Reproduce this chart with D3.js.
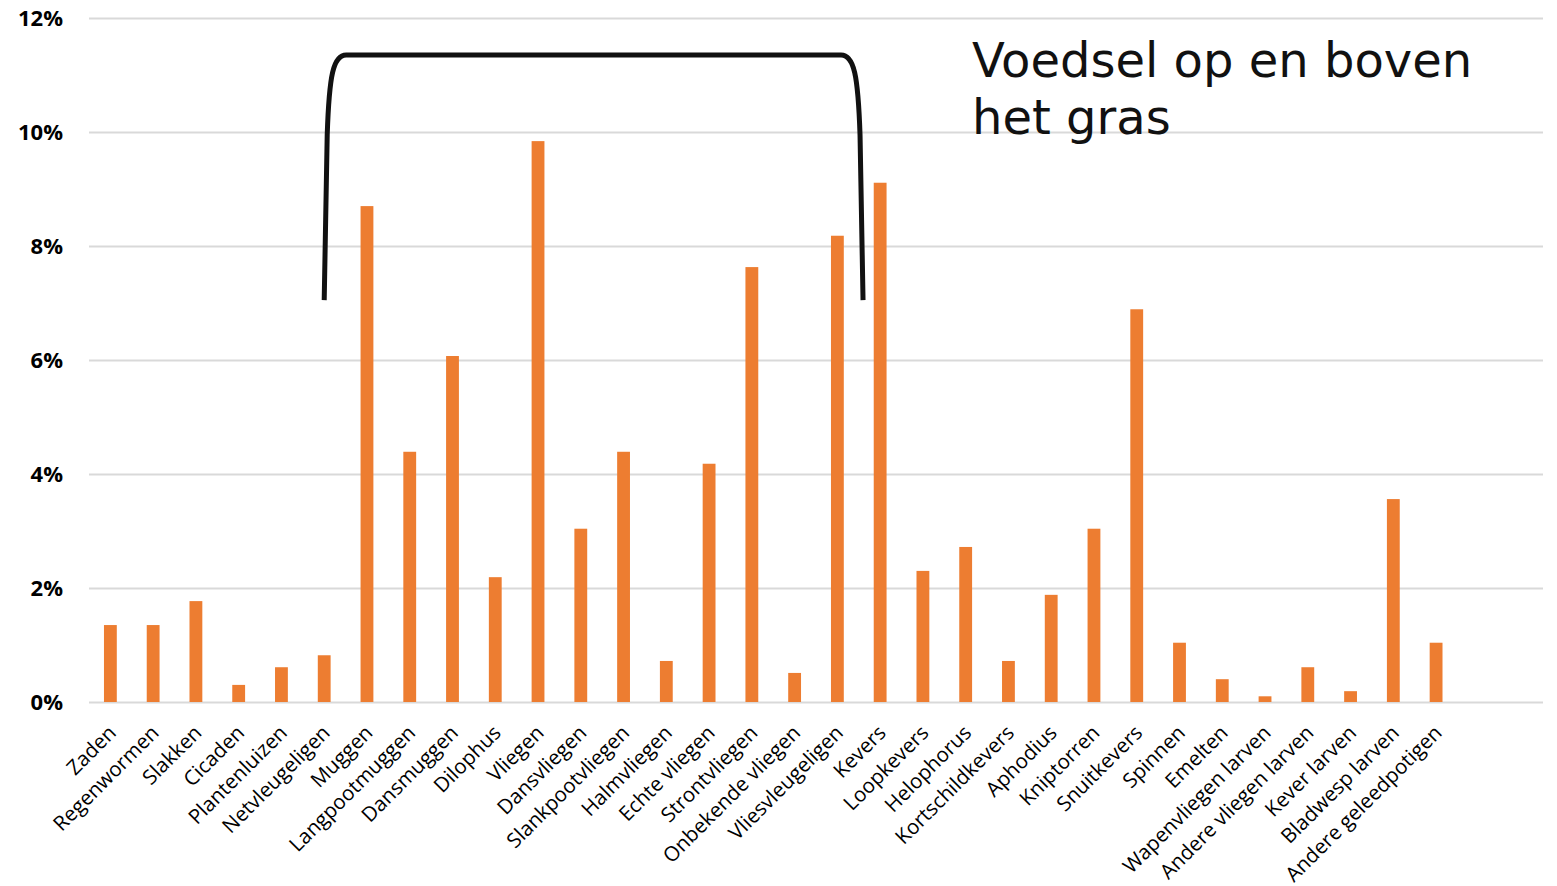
<!DOCTYPE html>
<html>
<head>
<meta charset="utf-8">
<script src="https://cdn.jsdelivr.net/npm/d3@7"></script>
<style>
  body { margin: 0; background: #fff; }
  .yAxis text { font-family: 'Open Sans', sans-serif; font-weight: bold; font-size: 22px; fill: #000; }
  .xAxis text { font-family: 'Open Sans', sans-serif; font-size: 20.5px; fill: #000; }
  .note { font-family: 'DejaVu Sans', sans-serif; font-weight: normal; fill: #111; }
</style>
</head>
<body>
<svg width="1557" height="886"></svg>
<script>
//## DATA ##
const categories = ['Zaden', 'Regenwormen', 'Slakken', 'Cicaden', 'Plantenluizen', 'Netvleugeligen',
  'Muggen', 'Langpootmuggen', 'Dansmuggen', 'Dilophus', 'Vliegen', 'Dansvliegen', 'Slankpootvliegen',
  'Halmvliegen', 'Echte vliegen', 'Strontvliegen', 'Onbekende vliegen', 'Vliesvleugeligen', 'Kevers',
  'Loopkevers', 'Helophorus', 'Kortschildkevers', 'Aphodius', 'Kniptorren', 'Snuitkevers', 'Spinnen',
  'Emelten', 'Wapenvliegen larven', 'Andere vliegen larven', 'Kever larven', 'Bladwesp larven',
  'Andere geleedpotigen']
const percentages = [1.35, 1.35, 1.77, 0.30, 0.61, 0.82,
  8.70, 4.39, 6.07, 2.19, 9.84, 3.04, 4.39,
  0.72, 4.18, 7.63, 0.51, 8.18, 9.11,
  2.30, 2.72, 0.72, 1.88, 3.04, 6.89, 1.04,
  0.40, 0.10, 0.61, 0.19, 3.56,
  1.04]
const yTicks = [0, 2, 4, 6, 8, 10, 12]
const noteLines = ['Voedsel op en boven', 'het gras']
// bracket spans from Netvleugeligen to just before Kevers, value range 7%..11.35%
const bracketFrom = 'Netvleugeligen'
const bracketTo = 'Kevers'
const bracketLow = 7.05
const bracketHigh = 11.35

//## D3 VARIABLES ##
const svg = d3.select('svg')
const plotLeft = 89
const plotRight = 1543
const plotTop = 18
const plotBottom = 702
const slots = 34 // chart reserves room for two empty slots on the right
const step = (plotRight - plotLeft) / slots

const scaleX = d3.scaleBand()
  .domain(categories)
  .range([plotLeft, plotLeft + step * categories.length])
  .paddingInner(0.7)
  .paddingOuter(0.35)

const scaleY = d3.scaleLinear()
  .domain([0, 12])
  .range([plotBottom, plotTop])

//## GRID + Y AXIS ##
const yAxisGroup = svg.append('g')
  .attr('class', 'yAxis')
  .attr('transform', 'translate(' + plotLeft + ',0)')
  .call(d3.axisLeft(scaleY).tickValues(yTicks).tickSize(-(plotRight - plotLeft)).tickPadding(26).tickFormat(d => d + '%'))

yAxisGroup.select('.domain').remove()
yAxisGroup.selectAll('.tick line')
  .attr('stroke', '#d9d9d9')
  .attr('stroke-width', 2)

//## BARS ##
svg.append('g').selectAll('rect').data(categories)
  .enter().append('rect')
    .attr('x', d => scaleX(d))
    .attr('y', (d, i) => scaleY(percentages[i]))
    .attr('width', scaleX.bandwidth())
    .attr('height', (d, i) => scaleY(0) - scaleY(percentages[i]))
    .attr('fill', '#ed7d31')

//## X AXIS ##
const xAxisGroup = svg.append('g')
  .attr('class', 'xAxis')
  .attr('transform', 'translate(0,' + plotBottom + ')')
  .call(d3.axisBottom(scaleX).tickSize(0).tickPadding(0))

xAxisGroup.select('.domain').remove()
xAxisGroup.selectAll('text')
  .attr('text-anchor', 'end')
  .attr('dy', null)
  .attr('y', 0)
  .attr('transform', 'translate(7,32) rotate(-45)')

//## BRACKET ANNOTATION ##
const bx0 = scaleX(bracketFrom) + scaleX.bandwidth() / 2
const bx1 = scaleX(bracketTo) - step * 0.25
const by0 = scaleY(bracketLow)
const by1 = scaleY(bracketHigh)
const bracket = d3.path()
bracket.moveTo(bx0, by0)
bracket.lineTo(bx0 + 3, by1 + 80)
bracket.bezierCurveTo(bx0 + 5, by1 + 20, bx0 + 9, by1, bx0 + 22, by1)
bracket.lineTo(bx1 - 22, by1)
bracket.bezierCurveTo(bx1 - 9, by1, bx1 - 5, by1 + 20, bx1 - 3, by1 + 80)
bracket.lineTo(bx1, by0)

svg.append('path')
  .attr('d', bracket.toString())
  .attr('fill', 'none')
  .attr('stroke', '#111')
  .attr('stroke-width', 5)

//## NOTE TEXT ##
const note = svg.append('g').attr('class', 'note')
noteLines.forEach((line, i) => {
  note.append('text')
    .attr('x', 972)
    .attr('y', 77 + i * 57)
    .style('font-size', '44px')
    .text(line)
})
// fit the first line to the width of the original title
const w = note.select('text').node().getComputedTextLength()
note.selectAll('text').style('font-size', Math.min(48, 44 * 503 / w) + 'px')
</script>
</body>
</html>
